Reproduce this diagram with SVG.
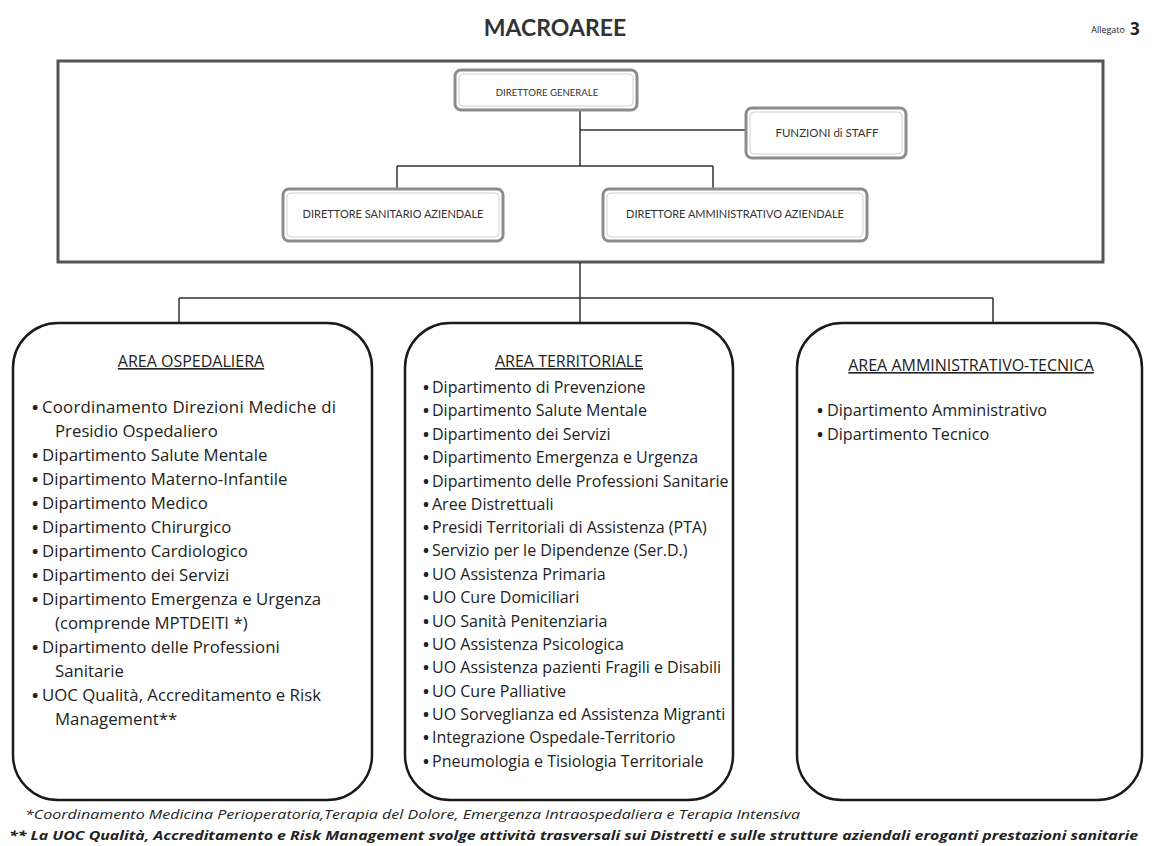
<svg xmlns="http://www.w3.org/2000/svg" width="1153" height="846" viewBox="0 0 1153 846">
<style>
.t{font-family:"Open Sans","Liberation Sans",sans-serif;fill:#222}
.hb{fill:#fff;stroke:#8c8c8c;stroke-width:3}
.hi{fill:none;stroke:#d0d0d0;stroke-width:1}
.ht{font-family:Lato,"Liberation Sans",sans-serif;fill:#333;text-anchor:middle}
.area{fill:#fff;stroke:#1a1a1a;stroke-width:2.5}
.ttl{font-size:16px;text-anchor:middle;text-decoration:underline}
.li{font-size:16.8px}
.lm{font-size:16px}
.la{font-size:16.2px}
.b{font-weight:bold}
.con{fill:none;stroke:#333;stroke-width:1.5}
</style>
<rect width="1153" height="846" fill="#fff"/>
<text class="ht" x="555" y="36" font-size="23" font-weight="bold" fill="#222">MACROAREE</text>
<text class="t" x="1125" y="33" font-size="9" text-anchor="end">Allegato</text>
<text class="t" x="1130" y="35" font-size="17" font-weight="bold">3</text>

<g id="outer">
<rect x="58" y="61" width="1045" height="201" fill="none" stroke="#555" stroke-width="3"/>
</g>

<g id="connectors">
<path class="con" d="M580 110 V166 M580 130 H746 M397 166 H713 M397 166 V189 M713 166 V189 M580 262 V298 M179 298 H993 M179 298 V323 M580 298 V323 M993 298 V323"/>
</g>

<g id="dg">
<rect class="hb" x="455" y="70" width="182" height="40" rx="6"/>
<rect class="hi" x="459" y="74" width="174" height="32" rx="4"/>
<text class="ht" x="547" y="96" font-size="9.6">DIRETTORE GENERALE</text>
</g>
<g id="staff">
<rect class="hb" x="746" y="108" width="160" height="50" rx="6"/>
<rect class="hi" x="750" y="112" width="152" height="42" rx="4"/>
<text class="ht" x="827" y="137" font-size="11.5">FUNZIONI di STAFF</text>
</g>
<g id="ds">
<rect class="hb" x="283" y="189" width="220" height="52" rx="6"/>
<rect class="hi" x="287" y="193" width="212" height="44" rx="4"/>
<text class="ht" x="393" y="218" font-size="11">DIRETTORE SANITARIO AZIENDALE</text>
</g>
<g id="da">
<rect class="hb" x="603" y="189" width="264" height="52" rx="6"/>
<rect class="hi" x="607" y="193" width="256" height="44" rx="4"/>
<text class="ht" x="735" y="218" font-size="11">DIRETTORE AMMINISTRATIVO AZIENDALE</text>
</g>

<g id="area-ospedaliera">
<rect class="area" x="13" y="323" width="359" height="477" rx="45"/>
<text class="t ttl" x="191" y="367">AREA OSPEDALIERA</text>
<g class="t li">
<text class="b" x="32" y="413">•</text><text x="42" y="413" textLength="294" lengthAdjust="spacing">Coordinamento Direzioni Mediche di</text>
<text x="55" y="437">Presidio Ospedaliero</text>
<text x="32" y="461"><tspan class="b">•</tspan><tspan x="42">Dipartimento Salute Mentale</tspan></text>
<text x="32" y="485"><tspan class="b">•</tspan><tspan x="42">Dipartimento Materno-Infantile</tspan></text>
<text x="32" y="509"><tspan class="b">•</tspan><tspan x="42">Dipartimento Medico</tspan></text>
<text x="32" y="533"><tspan class="b">•</tspan><tspan x="42">Dipartimento Chirurgico</tspan></text>
<text x="32" y="557"><tspan class="b">•</tspan><tspan x="42">Dipartimento Cardiologico</tspan></text>
<text x="32" y="581"><tspan class="b">•</tspan><tspan x="42">Dipartimento dei Servizi</tspan></text>
<text x="32" y="605"><tspan class="b">•</tspan><tspan x="42">Dipartimento Emergenza e Urgenza</tspan></text>
<text x="55" y="629">(comprende MPTDEITI *)</text>
<text x="32" y="653"><tspan class="b">•</tspan><tspan x="42">Dipartimento delle Professioni</tspan></text>
<text x="55" y="677">Sanitarie</text>
<text x="32" y="701"><tspan class="b">•</tspan><tspan x="42">UOC Qualità, Accreditamento e Risk</tspan></text>
<text x="55" y="725">Management**</text>
</g>
</g>

<g id="area-territoriale">
<rect class="area" x="405" y="323" width="328" height="477" rx="45"/>
<text class="t ttl" x="569" y="367">AREA TERRITORIALE</text>
<g class="t lm">
<text x="423" y="393"><tspan class="b">•</tspan><tspan x="432">Dipartimento di Prevenzione</tspan></text>
<text x="423" y="416"><tspan class="b">•</tspan><tspan x="432">Dipartimento Salute Mentale</tspan></text>
<text x="423" y="440"><tspan class="b">•</tspan><tspan x="432">Dipartimento dei Servizi</tspan></text>
<text x="423" y="463"><tspan class="b">•</tspan><tspan x="432">Dipartimento Emergenza e Urgenza</tspan></text>
<text x="423" y="487"><tspan class="b">•</tspan><tspan x="432">Dipartimento delle Professioni Sanitarie</tspan></text>
<text x="423" y="510"><tspan class="b">•</tspan><tspan x="432">Aree Distrettuali</tspan></text>
<text x="423" y="533"><tspan class="b">•</tspan><tspan x="432">Presidi Territoriali di Assistenza (PTA)</tspan></text>
<text x="423" y="556"><tspan class="b">•</tspan><tspan x="432">Servizio per le Dipendenze (Ser.D.)</tspan></text>
<text x="423" y="580"><tspan class="b">•</tspan><tspan x="432">UO Assistenza Primaria</tspan></text>
<text x="423" y="603"><tspan class="b">•</tspan><tspan x="432">UO Cure Domiciliari</tspan></text>
<text x="423" y="627"><tspan class="b">•</tspan><tspan x="432">UO Sanità Penitenziaria</tspan></text>
<text x="423" y="650"><tspan class="b">•</tspan><tspan x="432">UO Assistenza Psicologica</tspan></text>
<text x="423" y="673"><tspan class="b">•</tspan><tspan x="432">UO Assistenza pazienti Fragili e Disabili</tspan></text>
<text x="423" y="697"><tspan class="b">•</tspan><tspan x="432">UO Cure Palliative</tspan></text>
<text x="423" y="720"><tspan class="b">•</tspan><tspan x="432">UO Sorveglianza ed Assistenza Migranti</tspan></text>
<text x="423" y="743"><tspan class="b">•</tspan><tspan x="432">Integrazione Ospedale-Territorio</tspan></text>
<text x="423" y="767"><tspan class="b">•</tspan><tspan x="432">Pneumologia e Tisiologia Territoriale</tspan></text>
</g>
</g>

<g id="area-amministrativo-tecnica">
<rect class="area" x="797" y="323" width="345" height="477" rx="45"/>
<text class="t ttl" x="971" y="371">AREA AMMINISTRATIVO-TECNICA</text>
<g class="t la">
<text x="817" y="416"><tspan class="b">•</tspan><tspan x="827">Dipartimento Amministrativo</tspan></text>
<text x="817" y="440"><tspan class="b">•</tspan><tspan x="827">Dipartimento Tecnico</tspan></text>
</g>
</g>

<text class="t" x="25" y="819" font-size="12" font-style="italic" textLength="775" lengthAdjust="spacingAndGlyphs">*Coordinamento Medicina Perioperatoria,Terapia del Dolore, Emergenza Intraospedaliera e Terapia Intensiva</text>
<text class="t" x="9" y="840" font-size="13" font-style="italic" font-weight="bold" textLength="1129" lengthAdjust="spacingAndGlyphs">** La UOC Qualità, Accreditamento e Risk Management svolge attività trasversali sui Distretti e sulle strutture aziendali eroganti prestazioni sanitarie</text>
</svg>
